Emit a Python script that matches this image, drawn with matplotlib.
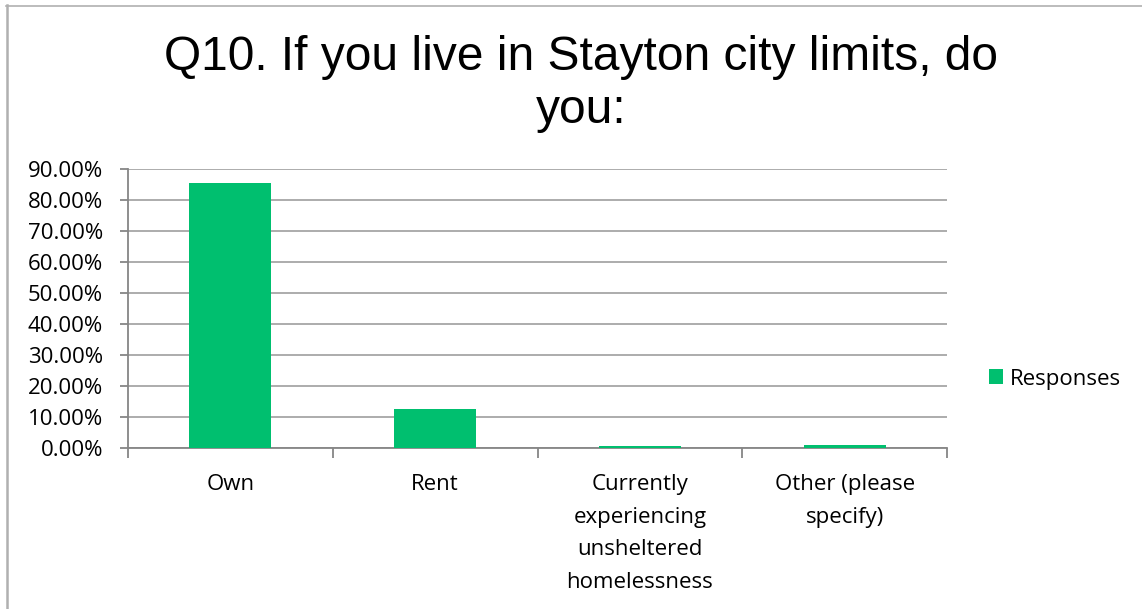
import matplotlib
matplotlib.use("Agg")
import matplotlib.pyplot as plt
from matplotlib.lines import Line2D
from matplotlib.ticker import FuncFormatter, MultipleLocator

categories = ["Own", "Rent", "Currently\nexperiencing\nunsheltered\nhomelessness", "Other (please\nspecify)"]
values = [85.5, 12.6, 0.5, 1.0]
series_name = "Responses"
title = "Q10. If you live in Stayton city limits, do\nyou:"

W, H = 1142, 609
fig = plt.figure(figsize=(W / 100, H / 100), dpi=100)
ax = fig.add_axes([128 / W, (H - 448) / H, (947 - 128) / W, (448 - 169) / H])

bar_color = "#00BF6F"
grid_color = "#A6A6A6"
axis_color = "#868686"
label_font = "Open Sans"
fs = 16

x = list(range(len(categories)))
ax.bar(x, values, width=0.4, color=bar_color, label=series_name, zorder=3)
ax.set_xlim(-0.5, len(categories) - 0.5)
ax.set_ylim(0, 90)
ax.yaxis.set_major_locator(MultipleLocator(10))
ax.yaxis.set_major_formatter(FuncFormatter(lambda v, p: f"{v:.2f}%"))
ax.grid(axis="y", color=grid_color, linewidth=1.3, zorder=0)
ax.set_axisbelow(True)

for s in ["top", "right"]:
    ax.spines[s].set_visible(False)
ax.spines["left"].set_color(axis_color)
ax.spines["bottom"].set_color(axis_color)
ax.spines["left"].set_linewidth(1.3)
ax.spines["bottom"].set_linewidth(1.3)

ax.set_xticks(x)
ax.set_xticklabels(categories, fontsize=fs, family=label_font, linespacing=1.72, va="top")
ax.set_xticks([i - 0.5 for i in range(len(categories) + 1)], minor=True)
ax.tick_params(axis="x", which="major", length=0, pad=19)
ax.tick_params(axis="x", which="minor", length=7, color=axis_color, width=1.3, direction="out")
ax.tick_params(axis="y", length=6, color=axis_color, width=1.3, pad=12, labelsize=fs)
for lbl in ax.get_yticklabels():
    lbl.set_family(label_font)

fig.text(0.509, 1 - 35 / H, title, ha="center", va="top", fontsize=34.5,
         family="Liberation Sans", linespacing=1.22)

leg = ax.legend(loc="center left", bbox_to_anchor=(969 / W, 1 - 379 / H),
                bbox_transform=fig.transFigure, frameon=False,
                prop={"family": label_font, "size": fs},
                handlelength=0.65, handleheight=0.65, handletextpad=0.3)

fig.add_artist(Line2D([7 / W, 7 / W], [0, 1 - 5 / H], color="#B0B0B0", linewidth=1.8, transform=fig.transFigure))
fig.add_artist(Line2D([6 / W, 1], [1 - 5.5 / H, 1 - 5.5 / H], color="#B0B0B0", linewidth=1.2, transform=fig.transFigure))

fig.savefig("out.png", dpi=100)
